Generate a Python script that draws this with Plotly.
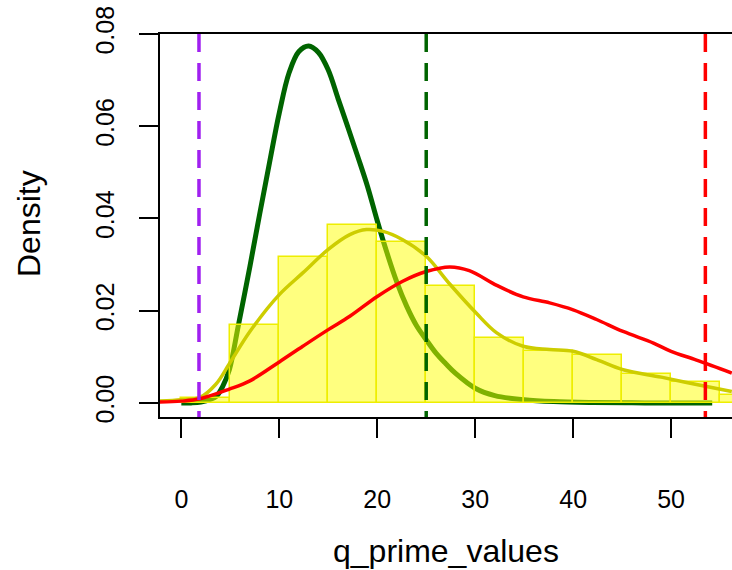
import plotly.graph_objects as go

# ---------------- data ----------------
bin_left = [0, 5, 10, 15, 20, 25, 30, 35, 40, 45, 50, 55]
bin_width = 5
bin_density = [0.0010, 0.0168, 0.0316, 0.0386, 0.0348, 0.0254, 0.0140,
               0.0112, 0.0105, 0.0062, 0.0046, 0.0017]

green_x = [0, 1, 2, 3, 3.6, 4.2, 4.9, 5.8, 7.0, 8.0, 9.0, 10.0, 11.0, 12.0,
           13.0, 14.0, 15.0, 16.0, 17.0, 18.0, 19.0, 20.0, 21.0, 22.0, 23.0,
           24.0, 25.0, 26.0, 27.0, 28.0, 30.0, 32.0, 35.0, 38.0, 42.0, 46.0,
           50.0, 54.2]
green_y = [0, 0.00002, 0.0002, 0.0008, 0.0015, 0.0035, 0.0072, 0.0166,
           0.0296, 0.0410, 0.0521, 0.0629, 0.0716, 0.0762, 0.0774, 0.0760,
           0.0722, 0.0660, 0.0598, 0.0535, 0.0470, 0.0395, 0.0325, 0.0262,
           0.0210, 0.0168, 0.0137, 0.0108, 0.0085, 0.0064, 0.0032, 0.0016,
           0.0007, 0.0003, 0.0001, 0.00003, 0.00001, 0]

olive_x = [-2.2, 0, 1.9, 3.5, 4.9, 7.0, 10.0, 12.4, 15.0, 17.2, 18.9, 20.6,
           22.6, 25.0, 27.4, 30.1, 32.2, 34.9, 37.6, 40.0, 42.4, 45.1, 49.0,
           52.6, 56.2]
olive_y = [0.0004, 0.0007, 0.0012, 0.0040, 0.0085, 0.0155, 0.0235, 0.0282,
           0.0333, 0.0365, 0.0376, 0.0372, 0.0354, 0.0318, 0.0258, 0.0195,
           0.0152, 0.0123, 0.0116, 0.0112, 0.0094, 0.0072, 0.0056, 0.0040,
           0.0025]

red_x = [-2.2, 0, 1.9, 4.9, 7.0, 10.0, 12.4, 15.0, 17.2, 20.0, 22.6, 25.0,
         27.4, 29.4, 32.2, 34.9, 37.6, 40.0, 42.4, 45.1, 48.2, 50.0, 52.6,
         56.2]
red_y = [0.0002, 0.0004, 0.0009, 0.0030, 0.0048, 0.0089, 0.0123, 0.0159,
         0.0188, 0.0231, 0.0264, 0.0285, 0.0295, 0.0287, 0.0255, 0.0230,
         0.0217, 0.0202, 0.0181, 0.0155, 0.0130, 0.0112, 0.0093, 0.0065]

vline_x = [1.8, 25.0, 53.5]
vline_colors = ["#A020F0", "#006400", "#FF0000"]

x_ticks = [0, 10, 20, 30, 40, 50]
y_ticks = [0, 0.02, 0.04, 0.06, 0.08]
y_tick_labels = ["0.00", "0.02", "0.04", "0.06", "0.08"]

x_range = [-2.18, 56.22]
y_range = [-0.00304, 0.0800]

FONT = "Liberation Sans, Arial, sans-serif"

fig = go.Figure()

# dark green density curve (drawn below the histogram)
fig.add_trace(go.Scatter(x=green_x, y=green_y, mode="lines",
                         line=dict(color="#006400", width=5, shape="spline"),
                         xaxis="x", yaxis="y", showlegend=False))

# semi-transparent histogram on an overlaid subplot, so it covers the green curve
fig.add_trace(go.Bar(x=bin_left, y=bin_density, width=bin_width, offset=0,
                     marker=dict(color="rgba(255,255,0,0.5)",
                                 line=dict(color="rgb(238,238,0)", width=1.5)),
                     xaxis="x2", yaxis="y2", showlegend=False))

fig.add_trace(go.Scatter(x=olive_x, y=olive_y, mode="lines",
                         line=dict(color="#CDCD00", width=3.5, shape="spline"),
                         xaxis="x2", yaxis="y2", showlegend=False))
fig.add_trace(go.Scatter(x=red_x, y=red_y, mode="lines",
                         line=dict(color="#FF0000", width=3.5, shape="spline"),
                         xaxis="x2", yaxis="y2", showlegend=False))

for vx, vc in zip(vline_x, vline_colors):
    fig.add_shape(type="line", xref="x", yref="paper", x0=vx, x1=vx,
                  y0=1, y1=0, layer="above",
                  line=dict(color=vc, width=3.5, dash="18px,11px"))

fig.add_annotation(text="q_prime_values", xref="paper", yref="paper",
                   x=0.5, y=-0.35, xanchor="center", yanchor="middle",
                   showarrow=False, font=dict(family=FONT, size=32, color="black"))
fig.add_annotation(text="Density", xref="paper", yref="paper",
                   x=-0.23, y=0.505, xanchor="center", yanchor="middle",
                   textangle=-90, showarrow=False,
                   font=dict(family=FONT, size=32, color="black"))

fig.update_layout(
    width=732, height=570, autosize=False,
    margin=dict(l=160, r=0, t=34, b=153, pad=0),
    paper_bgcolor="white", plot_bgcolor="white",
    barmode="overlay", bargap=0,
    xaxis=dict(range=x_range, tickvals=x_ticks, ticks="outside", ticklen=19,
               tickwidth=1.5, tickcolor="black", showline=True, mirror=True,
               linecolor="black", linewidth=1.5, showgrid=False, zeroline=False,
               tickfont=dict(family=FONT, size=25, color="black"),
               ticklabelstandoff=40, automargin=False),
    yaxis=dict(range=y_range, tickvals=y_ticks, ticktext=y_tick_labels,
               ticks="outside", ticklen=19, tickwidth=1.5, tickcolor="black",
               showline=True, mirror=False, linecolor="black", linewidth=1.5,
               showgrid=False, zeroline=False, tickangle=-90,
               tickfont=dict(family=FONT, size=25, color="black"),
               ticklabelstandoff=15, automargin=False),
    xaxis2=dict(range=x_range, overlaying="x", visible=False),
    yaxis2=dict(range=y_range, overlaying="y", visible=False),
)

fig.write_html("out.html",
               config={"displayModeBar": False},
               post_script="document.body.style.margin='0';"
                           "document.body.style.overflow='hidden';")
